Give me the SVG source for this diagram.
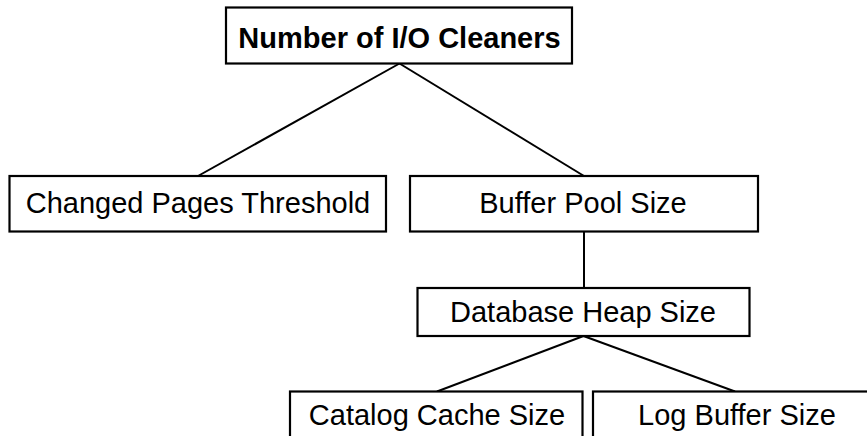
<svg xmlns="http://www.w3.org/2000/svg" width="867" height="436" viewBox="0 0 867 436">
  <style>
    .box { fill: #ffffff; stroke: #000000; stroke-width: 2.2; }
    .edge { fill: none; stroke: #000000; stroke-width: 2; }
    .label { font-family: "Liberation Sans", Arial, sans-serif; font-size: 29px; fill: #000000; text-anchor: middle; }
    .bold { font-weight: bold; }
  </style>
  <rect width="867" height="436" fill="#ffffff"/>

  <!-- connectors -->
  <g id="connectors">
    <line class="edge" x1="399.5" y1="63.5" x2="198" y2="176"/>
    <line class="edge" x1="399.5" y1="63.5" x2="584" y2="176"/>
    <line class="edge" x1="584" y1="231.5" x2="584" y2="288"/>
    <line class="edge" x1="583.5" y1="336" x2="437" y2="391.5"/>
    <line class="edge" x1="583.5" y1="336" x2="735" y2="391.5"/>
  </g>

  <!-- nodes -->
  <g id="io-cleaners">
    <rect class="box" x="226" y="7.5" width="346" height="56"/>
    <text class="label bold" x="399.5" y="48">Number of I/O Cleaners</text>
  </g>
  <g id="changed-pages-threshold">
    <rect class="box" x="9.5" y="176" width="376.5" height="55.5"/>
    <text class="label" x="198" y="213">Changed Pages Threshold</text>
  </g>
  <g id="buffer-pool-size">
    <rect class="box" x="410" y="176" width="348" height="55.5"/>
    <text class="label" x="583" y="213">Buffer Pool Size</text>
  </g>
  <g id="database-heap-size">
    <rect class="box" x="417.5" y="288" width="332" height="48"/>
    <text class="label" x="583" y="322">Database Heap Size</text>
  </g>
  <g id="catalog-cache-size">
    <rect class="box" x="290" y="391.5" width="292.5" height="60"/>
    <text class="label" x="437" y="425">Catalog Cache Size</text>
  </g>
  <g id="log-buffer-size">
    <rect class="box" x="593" y="391.5" width="290" height="60"/>
    <text class="label" x="737" y="425">Log Buffer Size</text>
  </g>
</svg>
